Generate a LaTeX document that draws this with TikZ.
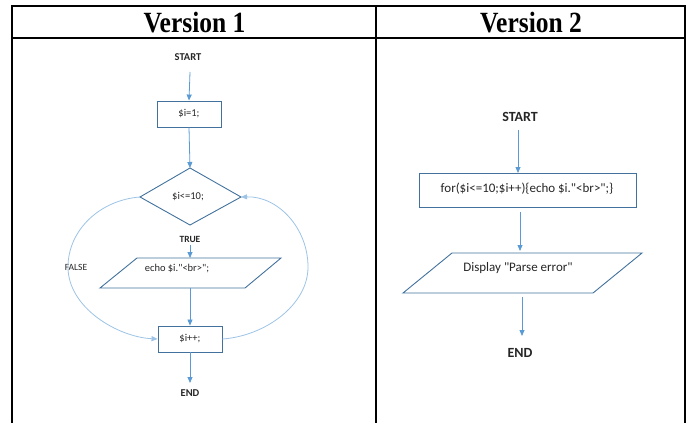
\documentclass[tikz,border=0pt]{standalone}
\usepackage{fontspec}
\setmainfont{Liberation Serif}
\newfontfamily\carl{Carlito}
\usetikzlibrary{arrows.meta}
\definecolor{arrowblue}{HTML}{5B9BD5}
\definecolor{shapeblue}{HTML}{41719C}
\definecolor{curveblue}{HTML}{9DC3E6}
\definecolor{txt}{HTML}{262626}
\tikzset{
  box/.style={draw=shapeblue, line width=0.9pt, minimum width=64pt, minimum height=26pt, inner sep=0pt, font=\carl\fontsize{10.5}{12}\selectfont, text=txt},
  shp/.style={draw=shapeblue, line width=0.9pt},
  lbl/.style={font=\carl\fontsize{10.5}{12}\selectfont, text=txt, inner sep=0pt},
  blbl/.style={font=\carl\bfseries\fontsize{10.5}{12}\selectfont, text=txt, inner sep=0pt},
  rlbl/.style={font=\carl\fontsize{13}{15}\selectfont, text=txt, inner sep=0pt},
  rblbl/.style={font=\carl\bfseries\fontsize{14}{16}\selectfont, text=txt, inner sep=0pt},
  flow/.style={draw=arrowblue, line width=0.8pt, -{Triangle[length=6pt,width=5pt]}},
  looppath/.style={draw=curveblue, line width=0.8pt},
  gridline/.style={line width=2pt, black},
  head/.style={font=\bfseries\fontsize{25.5}{28}\selectfont, inner sep=0pt, yscale=1.15, transform shape}
}
\begin{document}
\begin{tikzpicture}[x=1pt,y=-1pt]
\useasboundingbox (0,0) rectangle (690,423);
% table
\draw[gridline] (12,423) -- (12,6) -- (685,6) -- (685,423);
\draw[gridline] (12,38) -- (685,38);
\draw[gridline] (376,6) -- (376,423);
\node[head] (h1) at (194.5,23) {Version 1};
\node[head] (h2) at (531,23) {Version 2};

% ---------- Version 1 ----------
\node[blbl] (s1) at (188,57) {START};
\node[box] (b1) at (189,114) {\$i=1;};
\coordinate (dT) at (190,168);
\coordinate (dL) at (140,197);
\coordinate (dR) at (241,197);
\coordinate (dB) at (190,225);
\draw[shp] (dT) -- (dR) -- (dB) -- (dL) -- cycle;
\node[lbl] (dtext) at (188,197) {\$i<=10;};
\node[blbl,font=\carl\bfseries\fontsize{9.5}{11}\selectfont] (tr) at (190,239) {TRUE};
\coordinate (p1a) at (137,258);
\coordinate (p1b) at (281,258);
\coordinate (p1c) at (245,288);
\coordinate (p1d) at (100,288);
\draw[shp] (p1a) -- (p1b) -- (p1c) -- (p1d) -- cycle;
\node[lbl] (p1) at (177,269) {echo \$i."<br>";};
\coordinate (p1in) at (190,258);
\coordinate (p1out) at (190,288);
\node[box] (b2) at (190,339) {\$i++;};
\node[blbl] (e1) at (190,393) {END};
\coordinate (e1in) at (190,383);
\coordinate (s1out) at (190,72);
\coordinate (trout) at (190,245);
\node[lbl,font=\carl\fontsize{9.5}{11}\selectfont] (fl) at (76,267) {FALSE};

\draw[flow] (s1out) -- (b1.north);
\draw[flow] (b1.south) -- (dT);
\draw[flow] (trout) -- (p1in);
\draw[flow] (p1out) -- (b2.north);
\draw[flow] (b2.south) -- (e1in);
% loops
\draw[looppath, -{Triangle[length=6pt,width=5pt]}] (dL) .. controls (100,200) and (68,230) .. (68,267)
   .. controls (68,308) and (118,337) .. (b2.west);
\draw[looppath, -{Triangle[length=6pt,width=5pt]}] (b2.east) .. controls (265,336) and (308,305) .. (308,267)
   .. controls (308,228) and (278,196) .. (dR);

% ---------- Version 2 ----------
\node[rblbl] (s2) at (520,117) {START};
\node[draw=shapeblue, line width=0.9pt, minimum width=217pt, minimum height=34pt, inner sep=0pt] (r1) at (527.5,190) {};
\node[rlbl] (r1t) at (527,189) {for(\$i<=10;\$i++)\{echo \$i."<br>";\}};
\coordinate (q1) at (452,253);
\coordinate (q2) at (642,253);
\coordinate (q3) at (593,293);
\coordinate (q4) at (403,293);
\draw[shp] (q1) -- (q2) -- (q3) -- (q4) -- cycle;
\node[rlbl] (p2) at (518,268) {Display "Parse error"};
\node[rblbl] (e2) at (520,353) {END};
\coordinate (a1) at (518,130);
\coordinate (a1e) at (518,173);
\coordinate (a2) at (520,212);
\coordinate (a2e) at (520,251);
\coordinate (a3) at (522,297);
\coordinate (a3e) at (522,336);
\draw[flow] (a1) -- (a1e);
\draw[flow] (a2) -- (a2e);
\draw[flow] (a3) -- (a3e);
\end{tikzpicture}
\end{document}
